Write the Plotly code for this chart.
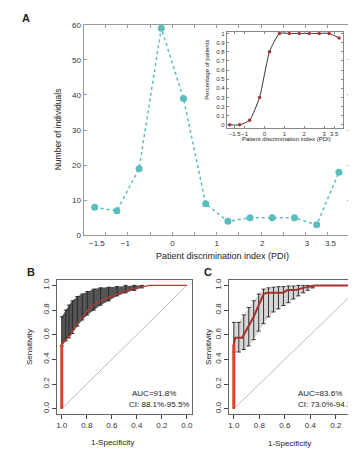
import plotly.graph_objects as go

# target canvas in reference pixels; the page body adds an 8px margin
REF_W, REF_H = 356, 453
OFF = 8
W, H = REF_W - OFF, REF_H - OFF

# ---------------- data ----------------
pdi_centers = [-1.75, -1.25, -0.75, -0.25, 0.25, 0.75, 1.25, 1.75, 2.25, 2.75, 3.25, 3.75]
n_individuals = [8, 7, 19, 59, 39, 9, 4, 5, 5, 5, 3, 18]
pct_patients = [0, 0, 0.05, 0.3, 0.8, 1, 1, 1, 1, 1, 1, 0.95]

a_tick_pos = [-1.7, -1.06, 0, 1, 2.02, 3.03, 3.56]
a_tick_text = ["\u22121.5", "\u22121", "0", "1", "2", "3", "3.5"]
inset_tick_pos = [-1.5, -1, 0, 1, 2, 3, 3.5]
inset_tick_text = ["\u22121.5", "\u22121", "0", "1", "2", "3", "3.5"]
inset_ytick = [0, 0.1, 0.2, 0.3, 0.4, 0.5, 0.6, 0.7, 0.8, 0.9, 1]
inset_ytext = ["0", "0.1", "0.2", "0.3", "0.4", "0.5", "0.6", "0.7", "0.8", "0.9", "1"]

roc_ticks = [1.0, 0.8, 0.6, 0.4, 0.2, 0.0]
roc_ticktext = ["1.0", "0.8", "0.6", "0.4", "0.2", "0.0"]

# Panel B ROC
b_spec = [1.0, 1.0, 0.968, 0.955, 0.929, 0.902, 0.876, 0.849, 0.823, 0.796, 0.77, 0.69, 0.624, 0.558, 0.49, 0.42, 0.35, 0.30, 0.0]
b_sens = [0.0, 0.52, 0.56, 0.575, 0.60, 0.655, 0.69, 0.72, 0.76, 0.80, 0.825, 0.875, 0.90, 0.93, 0.955, 0.975, 0.99, 1.0, 1.0]
b_ci_spec = [1.0, 0.968, 0.942, 0.915, 0.875, 0.836, 0.796, 0.744, 0.69, 0.625, 0.558, 0.49, 0.42, 0.36]
b_ci_lower = [0.51, 0.55, 0.575, 0.61, 0.67, 0.72, 0.76, 0.80, 0.84, 0.875, 0.915, 0.94, 0.96, 0.98]
b_ci_upper = [0.745, 0.80, 0.84, 0.875, 0.91, 0.93, 0.95, 0.97, 0.98, 0.985, 0.99, 1.0, 1.0, 1.0]

# Panel C ROC
c_spec = [1.0, 1.0, 0.99, 0.935, 0.922, 0.896, 0.870, 0.844, 0.818, 0.792, 0.767, 0.741, 0.611, 0.585, 0.507, 0.455, 0.40, 0.36, 0.0]
c_sens = [0.0, 0.52, 0.575, 0.575, 0.60, 0.65, 0.69, 0.745, 0.81, 0.875, 0.93, 0.94, 0.94, 0.96, 0.965, 0.98, 0.99, 1.0, 1.0]
c_ci_spec = [1.0, 0.961, 0.922, 0.883, 0.844, 0.805, 0.767, 0.728, 0.689, 0.65, 0.611, 0.572, 0.533, 0.494, 0.455, 0.42, 0.38]
c_ci_lower = [0.46, 0.46, 0.48, 0.51, 0.56, 0.63, 0.69, 0.745, 0.785, 0.81, 0.837, 0.86, 0.89, 0.915, 0.94, 0.96, 0.98]
c_ci_upper = [0.70, 0.70, 0.76, 0.82, 0.875, 0.93, 0.97, 0.98, 0.985, 0.99, 0.99, 0.995, 0.995, 1.0, 1.0, 1.0, 1.0]

diag_x = [1, 0]
diag_y = [0, 1]

FONT = "Liberation Sans, Arial, sans-serif"


def xd(p):
    return (p - OFF) / W


def yd(p):
    return 1 - (p - OFF) / H


fig = go.Figure()

# Panel A main
teal = "#58bdbb"
fig.add_trace(go.Scatter(x=pdi_centers, y=n_individuals, mode="lines+markers",
                         line=dict(color=teal, width=1.5, dash="dot"),
                         marker=dict(color=teal, size=7), xaxis="x", yaxis="y",
                         showlegend=False, hoverinfo="skip"))
# Inset
fig.add_trace(go.Scatter(x=pdi_centers, y=pct_patients, mode="lines+markers",
                         line=dict(color="#333333", width=1, shape="spline", smoothing=0.5),
                         marker=dict(color="#a83838", size=3.5), xaxis="x2", yaxis="y2",
                         showlegend=False, hoverinfo="skip"))


def roc_panel(xa, ya, spec, sens, ci_spec, lo, hi, fillc, barc, linec, linew):
    fig.add_trace(go.Scatter(x=ci_spec, y=lo, mode="lines", line=dict(width=0, color=fillc),
                             xaxis=xa, yaxis=ya, showlegend=False, hoverinfo="skip"))
    fig.add_trace(go.Scatter(x=ci_spec, y=hi, mode="lines", line=dict(width=0, color=fillc),
                             fill="tonexty", fillcolor=fillc,
                             xaxis=xa, yaxis=ya, showlegend=False, hoverinfo="skip"))
    fig.add_trace(go.Scatter(x=ci_spec, y=lo, mode="markers", marker=dict(opacity=0, size=1),
                             error_y=dict(type="data", symmetric=False,
                                          array=[h - l for h, l in zip(hi, lo)],
                                          arrayminus=[0] * len(lo),
                                          color=barc, thickness=1, width=2),
                             xaxis=xa, yaxis=ya, showlegend=False, hoverinfo="skip"))
    fig.add_trace(go.Scatter(x=diag_x, y=diag_y, mode="lines", line=dict(color="#bbbbbb", width=1),
                             xaxis=xa, yaxis=ya, showlegend=False, hoverinfo="skip"))
    fig.add_trace(go.Scatter(x=spec, y=sens, mode="lines", line=dict(color=linec, width=linew),
                             xaxis=xa, yaxis=ya, showlegend=False, hoverinfo="skip"))
    fig.add_trace(go.Scatter(x=spec[:2], y=sens[:2], mode="lines", line=dict(color="#e0402e", width=3),
                             xaxis=xa, yaxis=ya, showlegend=False, hoverinfo="skip"))


roc_panel("x3", "y3", b_spec, b_sens, b_ci_spec, b_ci_lower, b_ci_upper, "#555555", "#2a2a2a", "#b23a33", 1.3)
roc_panel("x4", "y4", c_spec, c_sens, c_ci_spec, c_ci_lower, c_ci_upper, "#d6d6d6", "#333333", "#a8302a", 2)

tickf = dict(family=FONT, size=8, color="#333333")
smallf = dict(family=FONT, size=6, color="#333333")

roc_x = dict(range=[1.04, -0.04], tickvals=roc_ticks, ticktext=roc_ticktext, ticks="outside",
             ticklen=4, tickcolor="#444", showline=True, linecolor="#666", linewidth=1,
             showgrid=False, zeroline=False, tickfont=tickf, tickangle=0)
roc_y = dict(range=[-0.04, 1.04], tickvals=roc_ticks, ticktext=roc_ticktext, ticks="outside",
             ticklen=4, tickcolor="#444", showline=True, linecolor="#666", linewidth=1,
             showgrid=False, zeroline=False, tickfont=tickf, tickangle=-90)

fig.update_layout(
    width=W, height=H, margin=dict(l=0, r=0, t=0, b=0),
    paper_bgcolor="white", plot_bgcolor="white", showlegend=False,
    font=dict(family=FONT, size=8, color="#333"),
    xaxis=dict(domain=[xd(83), xd(351)], anchor="y", range=[-2, 4],
               tickvals=a_tick_pos, ticktext=a_tick_text, ticks="inside", ticklen=0,
               minor=dict(dtick=0.5, tick0=0, ticks="inside", ticklen=3, tickcolor="#999"),
               showline=True, linecolor="#999", linewidth=1, mirror="ticks",
               showgrid=False, zeroline=False, tickfont=tickf, tickangle=0),
    yaxis=dict(domain=[yd(236), yd(21)], anchor="x", range=[0, 60], dtick=10,
               ticks="inside", ticklen=3, tickcolor="#999",
               showline=True, linecolor="#999", linewidth=1, mirror="ticks",
               showgrid=False, zeroline=False, tickfont=tickf),
    xaxis2=dict(domain=[xd(227), xd(344)], anchor="y2", range=[-1.9, 3.95],
                tickvals=inset_tick_pos, ticktext=inset_tick_text, ticks="inside", ticklen=2,
                tickcolor="#888", showline=True, linecolor="#888", linewidth=1, mirror="ticks",
                showgrid=False, zeroline=False, tickfont=smallf, tickangle=0),
    yaxis2=dict(domain=[yd(126), yd(28)], anchor="x2", range=[-0.03, 1.02],
                tickvals=inset_ytick, ticktext=inset_ytext, ticks="inside", ticklen=2,
                tickcolor="#888", showline=True, linecolor="#888", linewidth=1, mirror="ticks",
                showgrid=False, zeroline=False, tickfont=smallf),
    xaxis3=dict(domain=[xd(56), xd(192)], anchor="y3", mirror=True, **roc_x),
    yaxis3=dict(domain=[yd(418), yd(282)], anchor="x3", mirror=True, **roc_y),
    xaxis4=dict(domain=[xd(229), 1.0], anchor="y4", mirror=True,
                **{**roc_x, "range": [1.04, 0.05]}),
    yaxis4=dict(domain=[yd(418), yd(282)], anchor="x4", mirror=False, **roc_y),
)

ann = []


def add_text(x, y, text, size=8, angle=0, xanchor="center", bold=False):
    ann.append(dict(x=xd(x), y=yd(y), xref="paper", yref="paper", text=(f"<b>{text}</b>" if bold else text),
                    showarrow=False, textangle=angle, xanchor=xanchor, yanchor="middle",
                    font=dict(family=FONT, size=size, color="#222")))


add_text(25, 14, "A", 11, bold=True)
add_text(30, 273, "B", 11, bold=True)
add_text(208, 273, "C", 11, bold=True)
add_text(57, 128, "Number of individuals", 8.5, angle=-90)
add_text(223, 257, "Patient discrimination index (PDI)", 9)
add_text(207, 67, "Percentage of patients", 6, angle=-90)
add_text(287, 138, "Patient discrimination index (PDI)", 6)
add_text(28, 350, "Sensitivity", 8, angle=-90)
add_text(112, 447, "1-Specificity", 8)
add_text(208, 350, "Sensitivity", 8, angle=-90)
add_text(290, 448, "1-Specificity", 8)
add_text(130, 397, "AUC=91.8%", 8, xanchor="left")
add_text(127, 409, "CI: 88.1%-95.5%", 8, xanchor="left")
add_text(297, 397, "AUC=83.6%", 8, xanchor="left")
add_text(297, 409, "CI: 73.0%-94.3%", 8, xanchor="left")

fig.update_layout(annotations=ann)
fig.write_html("out.html")
